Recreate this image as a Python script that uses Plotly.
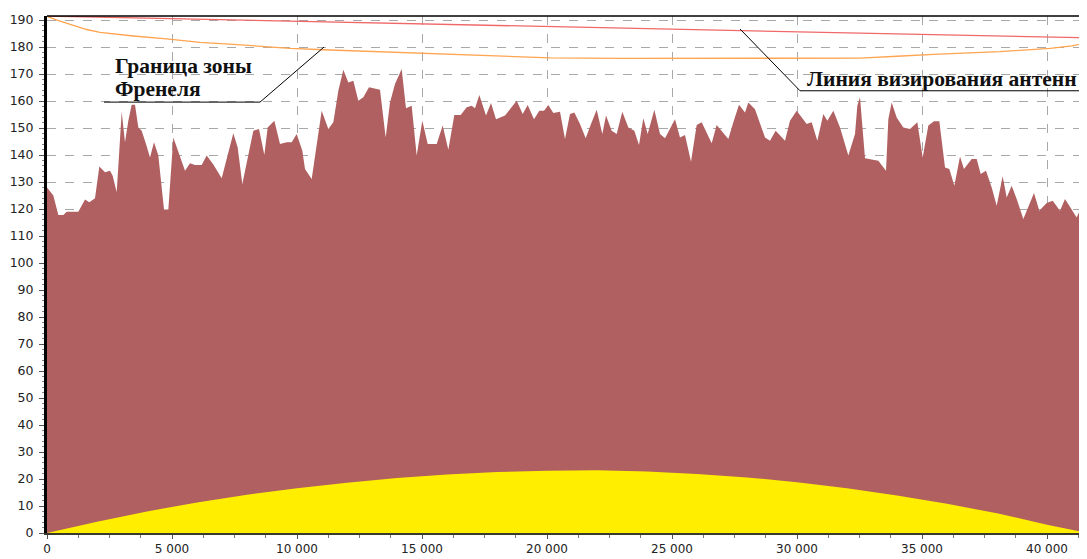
import plotly.graph_objects as go

# Terrain profile (distance m, height m)
terrain_x = [0, 253, 453, 653, 787, 1253, 1520, 1693, 1920, 2093, 2320, 2520, 2627, 2787, 2880, 2987,
             3120, 3253, 3387, 3520, 3653, 3787, 3960, 4120, 4280, 4453, 4680, 4853, 5053, 5213, 5520,
             5720, 5920, 6187, 6387, 6653, 6987, 7453, 7627, 7813, 8253, 8480, 8693, 8827, 9093, 9320,
             9587, 9787, 9987, 10213, 10320, 10587, 10987, 11253, 11453, 11653, 11853, 12053, 12253,
             12453, 12653, 12880, 13320, 13547, 13720, 13920, 14187, 14360, 14587, 14787, 15013, 15227,
             15587, 15827, 16053, 16293, 16547, 16787, 16987, 17120, 17293, 17560, 17760, 17960, 18320,
             18787, 19027, 19227, 19480, 19693, 19880, 20053, 20253, 20520, 20720, 20920, 21093, 21320,
             21547, 21760, 21987, 22213, 22360, 22587, 22787, 23013, 23253, 23493, 23680, 23853, 24027,
             24293, 24520, 24720, 25120, 25320, 25520, 25760, 25987, 26187, 26587, 26787, 27253, 27453,
             27680, 27920, 28053, 28320, 28720, 28920, 29147, 29520, 29720, 29987, 30387, 30587, 30813,
             31053, 31213, 31453, 31720, 32053, 32320, 32413, 32520, 32720, 33253, 33560, 33653, 33787,
             33987, 34253, 34520, 34813, 35027, 35253, 35480, 35693, 35920, 36093, 36293, 36520, 36680,
             36987, 37187, 37347, 37560, 37787, 37987, 38227, 38387, 38587, 38787, 39053, 39253, 39480,
             39693, 39987, 40227, 40520, 40720, 40893, 41187, 41453, 41600]
terrain_h = [128.0, 125.0, 117.8, 117.8, 119.0, 119.0, 123.5, 122.5, 124.0, 135.8, 133.6, 134.2, 132.3,
             126.2, 139.8, 156.0, 144.7, 152.7, 158.6, 158.6, 150.2, 149.0, 144.1, 139.1, 144.7, 139.8,
             119.8, 119.8, 146.5, 142.2, 134.2, 137.0, 136.3, 136.3, 139.8, 136.5, 131.4, 148.1, 142.8,
             129.3, 149.0, 149.6, 140.0, 150.2, 152.7, 144.1, 144.7, 144.7, 147.8, 141.6, 134.8, 131.1,
             156.4, 149.6, 152.1, 163.8, 171.6, 166.9, 167.5, 160.1, 161.4, 165.1, 164.2, 146.5, 159.5,
             166.3, 171.9, 157.3, 158.3, 139.8, 152.7, 144.1, 144.1, 150.9, 142.0, 154.8, 154.8, 157.7,
             158.3, 157.3, 162.2, 154.6, 159.3, 153.3, 154.6, 160.1, 155.2, 158.5, 153.3, 156.4, 156.4,
             158.5, 155.6, 156.0, 145.9, 155.2, 155.8, 151.5, 146.2, 151.5, 156.8, 147.8, 154.6, 149.0,
             147.8, 156.0, 150.2, 149.0, 143.7, 153.6, 147.8, 156.8, 147.8, 146.2, 153.3, 146.5, 147.4,
             137.5, 151.1, 152.1, 144.4, 151.1, 145.9, 152.1, 158.6, 155.8, 159.5, 157.0, 146.5, 145.3,
             149.0, 145.3, 152.7, 156.4, 151.5, 152.1, 145.3, 155.2, 152.7, 156.4, 150.2, 139.8, 147.8,
             158.3, 161.4, 138.8, 137.9, 134.2, 153.3, 159.5, 153.9, 150.2, 149.6, 152.1, 139.1, 150.9,
             152.5, 152.5, 135.4, 134.8, 128.6, 139.5, 134.8, 138.5, 138.5, 133.0, 134.2, 128.0, 121.2,
             132.1, 124.3, 128.6, 123.7, 116.3, 120.6, 125.9, 119.4, 122.2, 123.1, 119.4, 123.7, 121.0,
             116.9, 122.5, 125.0]

# Earth curvature bulge
bulge_x = [0, 2000, 4000, 6000, 8000, 10000, 12000, 14000, 16000, 18000, 20000, 22000, 24000,
           26000, 28000, 30000, 32000, 34000, 36000, 38000, 40000, 41600]
bulge_h = [0, 4.2, 8.0, 11.3, 14.2, 16.6, 18.6, 20.4, 21.7, 22.6, 23.1, 23.2, 22.8, 21.9, 20.6,
           18.8, 16.6, 13.9, 10.8, 7.3, 3.1, 0]

# Line of sight
los_x = [0, 41600]
los_h = [191.5, 183.4]

# Fresnel zone boundary
fres_x = [0, 53, 400, 787, 1200, 1587, 2120, 2800, 3453, 4787, 6120, 7453, 8787, 9720, 11053, 13000,
          15053, 17853, 20120, 23000, 26120, 29000, 32520, 34000, 35453, 38120, 40120, 41000, 41600]
fres_h = [191.5, 191.2, 190.0, 188.8, 187.6, 186.5, 185.4, 184.7, 184.1, 183.0, 181.7, 181.0, 180.1,
          179.5, 179.0, 178.4, 177.7, 176.8, 176.0, 175.8, 175.8, 175.8, 175.9, 176.6, 177.3, 178.3,
          179.5, 180.4, 181.6]

x_ticks = [0, 5000, 10000, 15000, 20000, 25000, 30000, 35000, 40000]
x_labels = ["0", "5 000", "10 000", "15 000", "20 000", "25 000", "30 000", "35 000", "40 000"]
y_ticks = list(range(0, 191, 10))

label_fresnel_1 = "<b>Граница зоны</b>"
label_fresnel_2 = "<b>Френеля</b>"
label_los = "<b>Линия визирования антенн</b>"

fig = go.Figure()
fig.add_trace(go.Scatter(x=terrain_x, y=terrain_h, mode="lines", fill="tozeroy",
                         line=dict(width=0, color="#B06060"), fillcolor="#B06060",
                         hoverinfo="skip"))
fig.add_trace(go.Scatter(x=bulge_x, y=bulge_h, mode="lines", fill="tozeroy",
                         line=dict(width=0, color="#FFEE00"), fillcolor="#FFEE00",
                         hoverinfo="skip"))
fig.add_trace(go.Scatter(x=los_x, y=los_h, mode="lines",
                         line=dict(width=1.3, color="#F06868"), hoverinfo="skip"))
fig.add_trace(go.Scatter(x=fres_x, y=fres_h, mode="lines",
                         line=dict(width=1.3, color="#FFA450"), hoverinfo="skip"))

# Leader lines for labels
fig.add_trace(go.Scatter(x=[2280, 8520, 11080], y=[159.6, 159.6, 180.0], mode="lines",
                         line=dict(width=1, color="#000000"), hoverinfo="skip"))
fig.add_trace(go.Scatter(x=[41280, 30120, 27720], y=[163.8, 163.8, 186.7], mode="lines",
                         line=dict(width=1, color="#000000"), hoverinfo="skip"))

label_font = dict(family="Liberation Serif", size=21.5, color="#111111")
fig.add_annotation(x=2640, y=173.1, xref="x", yref="y", text=label_fresnel_1, showarrow=False,
                   xanchor="left", yanchor="middle", align="left", font=label_font)
fig.add_annotation(x=2640, y=164.4, xref="x", yref="y", text=label_fresnel_2, showarrow=False,
                   xanchor="left", yanchor="middle", align="left", font=label_font)
fig.add_annotation(x=30320, y=168.0, xref="x", yref="y", text=label_los, showarrow=False,
                   xanchor="left", yanchor="middle", align="left", font=label_font)

# Top border
fig.add_shape(type="line", xref="paper", yref="paper", x0=0, x1=1, y0=1, y1=1,
              line=dict(color="#000000", width=1.5))

# The page body has an 8px margin, so the figure is sized to end at the window edge.
fig.update_layout(
    width=1079, height=551,
    margin=dict(l=39, r=0, t=8, b=26, autoexpand=False),
    paper_bgcolor="white", plot_bgcolor="white",
    showlegend=False,
    font=dict(family="DejaVu Sans", size=12, color="#222222"),
)
fig.update_xaxes(range=[0, 41600], tickvals=x_ticks, ticktext=x_labels, automargin=False,
                 showgrid=True, gridcolor="#A8A8A8", griddash="dash", gridwidth=1,
                 showline=True, linecolor="#3A3A2A", linewidth=2,
                 ticks="outside", ticklen=4, tickcolor="#555555",
                 minor=dict(dtick=1250, ticks="outside", ticklen=3, tickcolor="#777777", showgrid=False),
                 zeroline=False, tickfont=dict(size=12, color="#222222"))
fig.update_yaxes(range=[0, 191.5], tickvals=y_ticks, automargin=False,
                 showgrid=True, gridcolor="#A8A8A8", griddash="dash", gridwidth=1,
                 showline=True, linecolor="#000000", linewidth=3,
                 ticks="outside", ticklen=5, tickcolor="#555555", ticklabelstandoff=3,
                 minor=dict(dtick=2, ticks="outside", ticklen=2, tickcolor="#888888", showgrid=False),
                 zeroline=False, tickfont=dict(size=12.5, color="#222222"))

fig.write_html("out.html")
